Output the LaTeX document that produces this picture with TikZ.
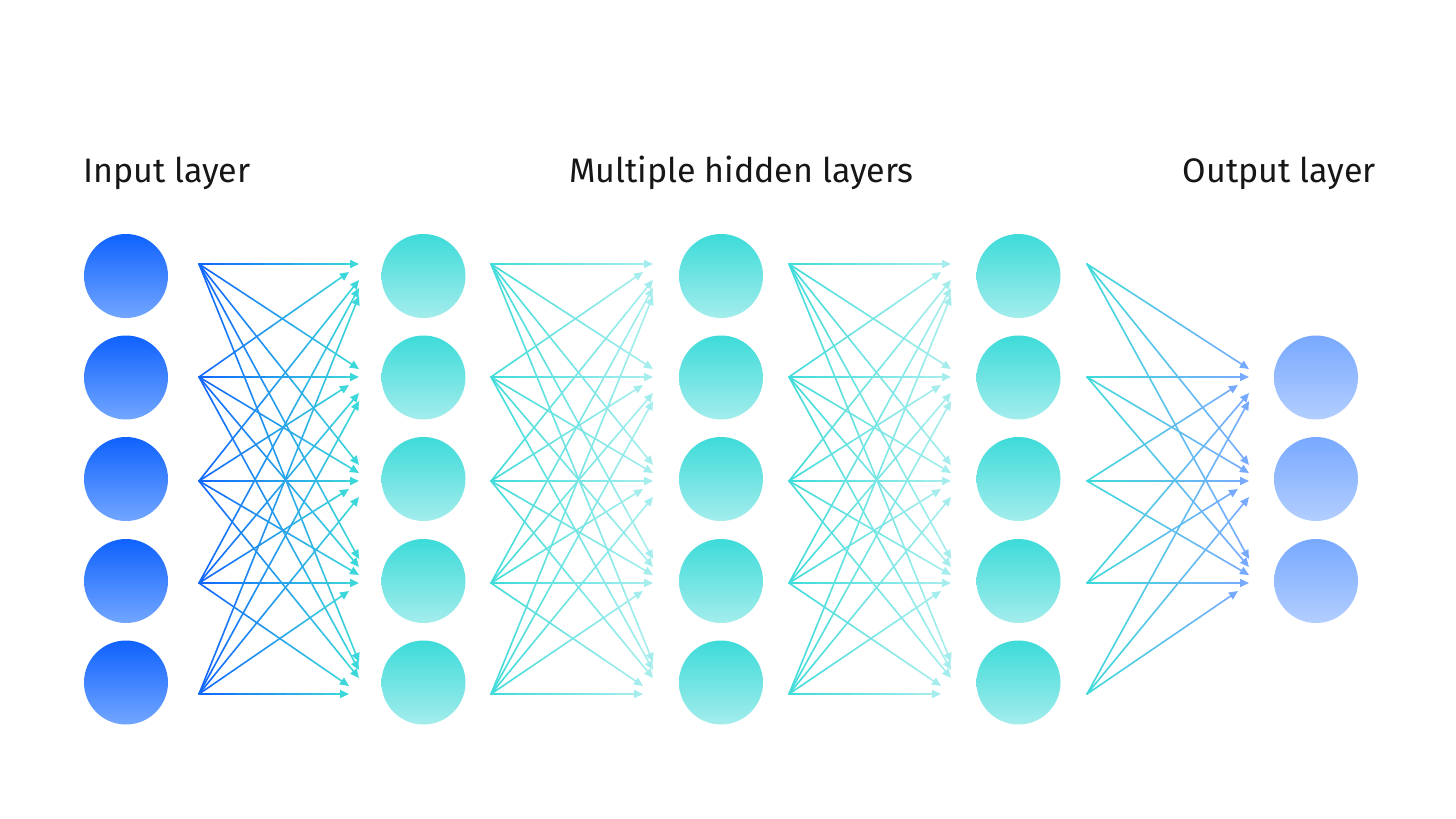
\documentclass[tikz,border=0pt]{standalone}
\usepackage{fontspec}
\setmainfont{Fira Sans}
\usetikzlibrary{arrows.meta,calc}
\definecolor{inTop}{HTML}{0F62FE}
\definecolor{inBot}{HTML}{72A6FF}
\definecolor{hidTop}{HTML}{3DDBD9}
\definecolor{hidBot}{HTML}{A3EDEC}
\definecolor{hidFade}{HTML}{A8EEEE}
\definecolor{outTop}{HTML}{78A9FF}
\definecolor{outBot}{HTML}{B3CEFF}
\definecolor{lblc}{HTML}{161616}
\tikzset{
  neuron/.style={circle, minimum size=84pt, inner sep=0pt, draw=none},
  inneuron/.style={neuron, top color=inTop, bottom color=inBot},
  hidneuron/.style={neuron, top color=hidTop, bottom color=hidBot},
  outneuron/.style={neuron, top color=outTop, bottom color=outBot},
  seg/.style={line width=1.6pt, line cap=round},
  tipseg/.style={line width=1.6pt, -{Triangle[length=9pt,width=8pt]}},
  lbl/.style={font=\fontsize{34}{40}\selectfont, text=lblc, inner sep=0pt}
}
\newcommand{\nnline}[4]{%
  \foreach \k in {1,...,11} {%
    \pgfmathsetmacro{\ta}{(\k-1)/12}%
    \pgfmathsetmacro{\tb}{\k/12}%
    \pgfmathtruncatemacro{\pc}{100-100*(\k-0.5)/12}%
    \draw[seg, draw=#3!\pc!#4] ($(#1)!\ta!(#2)$) -- ($(#1)!\tb!(#2)$);
  }%
  \draw[tipseg, draw=#4!97!#3, fill=#4!97!#3] ($(#1)!0.9166!(#2)$) -- (#2);
}
\begin{document}
\begin{tikzpicture}[x=1pt,y=-1pt]
\useasboundingbox (0,0) rectangle (1456,819);
\fill[white] (0,0) rectangle (1456,819);

% labels
\node[lbl, anchor=base west] (tin) at (83,182) {Input layer};
\node[lbl, anchor=base west] (thid) at (569,182) {Multiple hidden layers};
\node[lbl, anchor=base east] (tout) at (1376,182) {Output layer};

% source and end points
\foreach \b/\sx/\ex/\exs in {1/199/359/349, 2/491/653/643, 3/789/951/941, 4/1087/1249/1238} {
  \foreach \i/\sy in {1/264,2/377,3/481,4/583,5/694} {
    \coordinate (s-\b-\i) at (\sx,\sy);
    \foreach \j/\ty in {1/264,2/377,3/481,4/583,5/694} {
      \pgfmathsetmacro{\xx}{((\i==\j+1) || ((\j==5) && (\i>=4))) ? \exs : \ex}
      \coordinate (e-\b-\i-\j) at (\xx,{\ty+8*(\i-\j)});
    }
  }
}

% connectors
\foreach \i in {1,...,5} {
  \foreach \j in {1,...,5} {
    \nnline{s-1-\i}{e-1-\i-\j}{inTop}{hidTop}
    \nnline{s-2-\i}{e-2-\i-\j}{hidTop}{hidFade}
    \nnline{s-3-\i}{e-3-\i-\j}{hidTop}{hidFade}
  }
  \foreach \j in {2,3,4} {
    \nnline{s-4-\i}{e-4-\i-\j}{hidTop}{outTop}
  }
}

% neurons
\foreach \r/\y in {1/276,2/377.5,3/479,4/581,5/682.5} {
  \node[inneuron] (in\r) at (126,\y) {};
  \node[hidneuron] (ha\r) at (423.5,\y) {};
  \node[hidneuron] (hb\r) at (721,\y) {};
  \node[hidneuron] (hc\r) at (1018.5,\y) {};
}
\foreach \r/\y in {1/377.5,2/479,3/581} {
  \node[outneuron] (out\r) at (1316,\y) {};
}
\end{tikzpicture}
\end{document}
